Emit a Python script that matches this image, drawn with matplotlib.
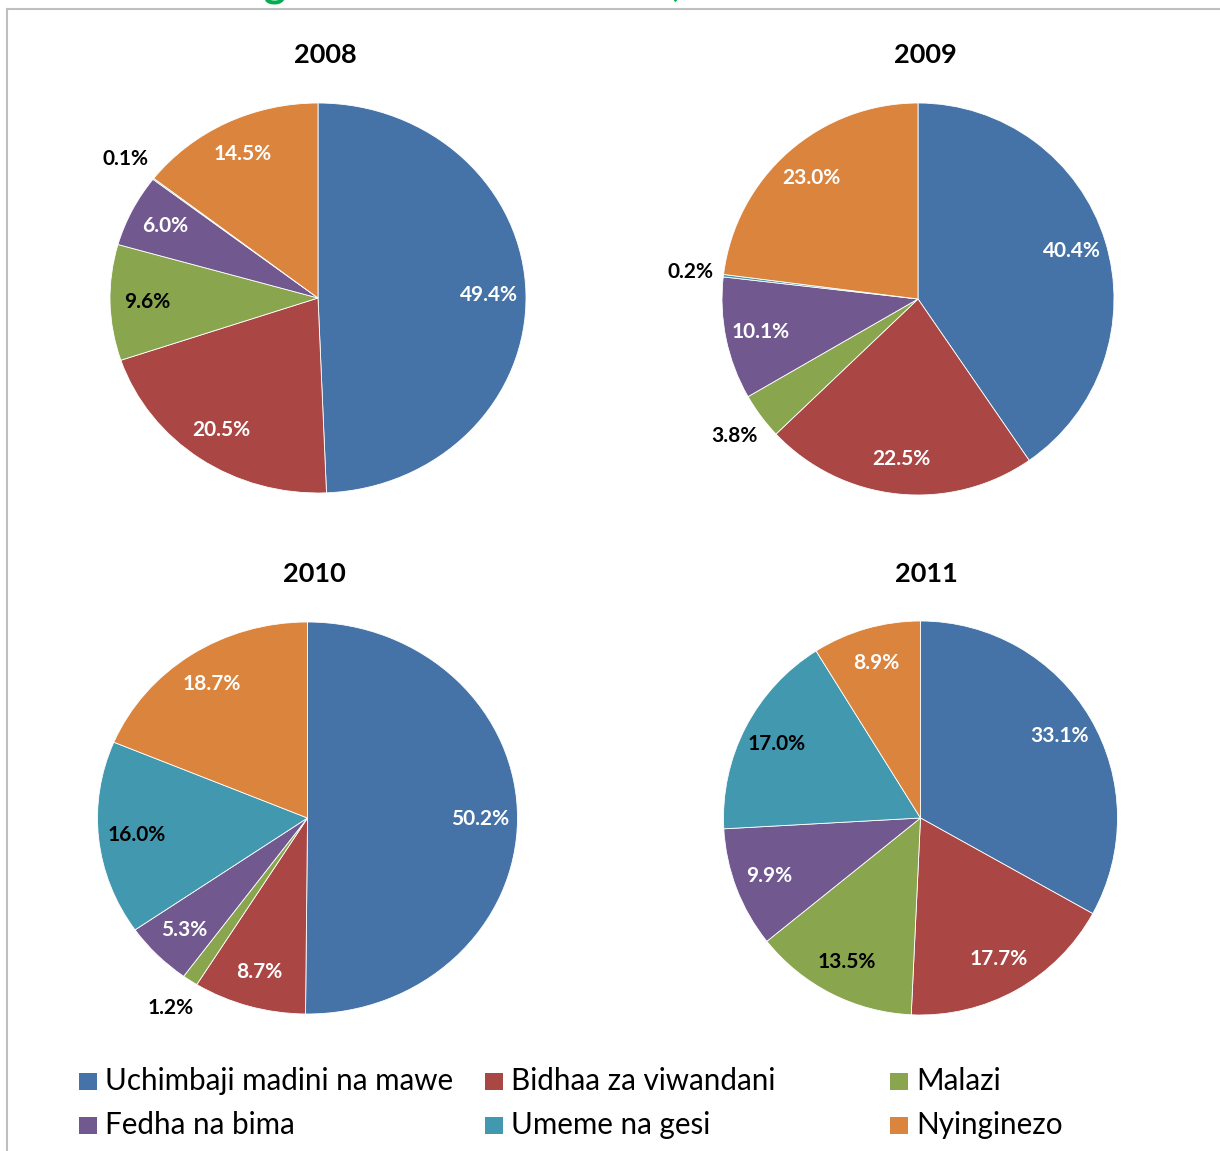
import matplotlib
matplotlib.use("Agg")
import matplotlib.pyplot as plt
from matplotlib.patches import Rectangle
from matplotlib.lines import Line2D
import numpy as np

plt.rcParams['font.family'] = ['Lato', 'DejaVu Sans']

categories = ["Uchimbaji madini na mawe", "Bidhaa za viwandani", "Malazi",
              "Fedha na bima", "Umeme na gesi", "Nyinginezo"]
colors = ["#4572A7", "#AA4643", "#89A54E", "#71588F", "#4198AF", "#DB843D"]
years = ["2008", "2009", "2010", "2011"]
v2008 = [49.4, 20.5, 9.6, 6.0, 0.1, 14.5]
v2009 = [40.4, 22.5, 3.8, 10.1, 0.2, 23.0]
v2010 = [50.2, 8.7, 1.2, 5.3, 16.0, 18.7]
v2011 = [33.1, 17.7, 13.5, 9.9, 17.0, 8.9]
series = [v2008, v2009, v2010, v2011]

W, H = 1220, 1151
fig = plt.figure(figsize=(W / 100, H / 100), dpi=100)

# pie layout in pixels: center x, center y, x-radius, y-radius
centers = [(318, 298, 208, 195), (918, 299, 196, 196),
           (307.5, 818, 210, 196), (920.5, 818, 197, 197)]
title_pos = [(325, 55), (925, 55), (314, 574), (926, 574)]
dark = {0: True, 1: True, 2: False, 3: True, 4: False, 5: True}

for vals, yr, (cx, cy, rx, ry), (tx, ty) in zip(series, years, centers, title_pos):
    ax = fig.add_axes([(cx - rx) / W, (H - cy - ry) / H, 2 * rx / W, 2 * ry / H])
    wedges, _ = ax.pie(vals, colors=colors, startangle=90, counterclock=False,
                       wedgeprops=dict(edgecolor="white", linewidth=0.6))
    ax.set_aspect("auto")
    ax.set_xlim(-1, 1)
    ax.set_ylim(-1, 1)
    ax.axis("off")
    for i, (w, v) in enumerate(zip(wedges, vals)):
        ang = np.deg2rad((w.theta1 + w.theta2) / 2)
        if v < 5:
            d = 1.17
            col = "black"
        else:
            d = 0.82
            col = "white" if dark[i] else "black"
        ax.text(d * np.cos(ang), d * np.sin(ang), f"{v:.1f}%", ha="center",
                va="center", fontsize=15, fontweight="bold", color=col,
                clip_on=False)
    fig.text(tx / W, 1 - ty / H, yr, ha="center", va="center",
             fontsize=19.5, fontweight="bold")

# legend
leg_pos = [(79, 1081), (485, 1081), (890, 1081), (79, 1125), (485, 1125), (890, 1125)]
for name, col, (lx, ly) in zip(categories, colors, leg_pos):
    fig.patches.append(Rectangle((lx / W, 1 - (ly + 9) / H), 18 / W, 17 / H,
                                 transform=fig.transFigure, facecolor=col,
                                 edgecolor="none"))
    fig.text((lx + 26) / W, 1 - ly / H, name, ha="left", va="center",
             fontsize=21.3, color="black")

# frame border
fig.add_artist(Line2D([7 / W, 1], [1 - 9 / H, 1 - 9 / H], transform=fig.transFigure,
                      color="#BFBFBF", linewidth=1.5))
fig.add_artist(Line2D([7 / W, 7 / W], [0, 1 - 9 / H], transform=fig.transFigure,
                      color="#BFBFBF", linewidth=1.5))

# clipped title remnants at top
fig.text(275 / W, 1 + 4 / H, "g", ha="center", va="baseline", fontsize=30,
         fontweight="bold", color="#00B050")
fig.text(676 / W, 1 + 4 / H, ",", ha="center", va="baseline", fontsize=30,
         fontweight="bold", color="#00B050")

fig.savefig("out.png", dpi=100)
